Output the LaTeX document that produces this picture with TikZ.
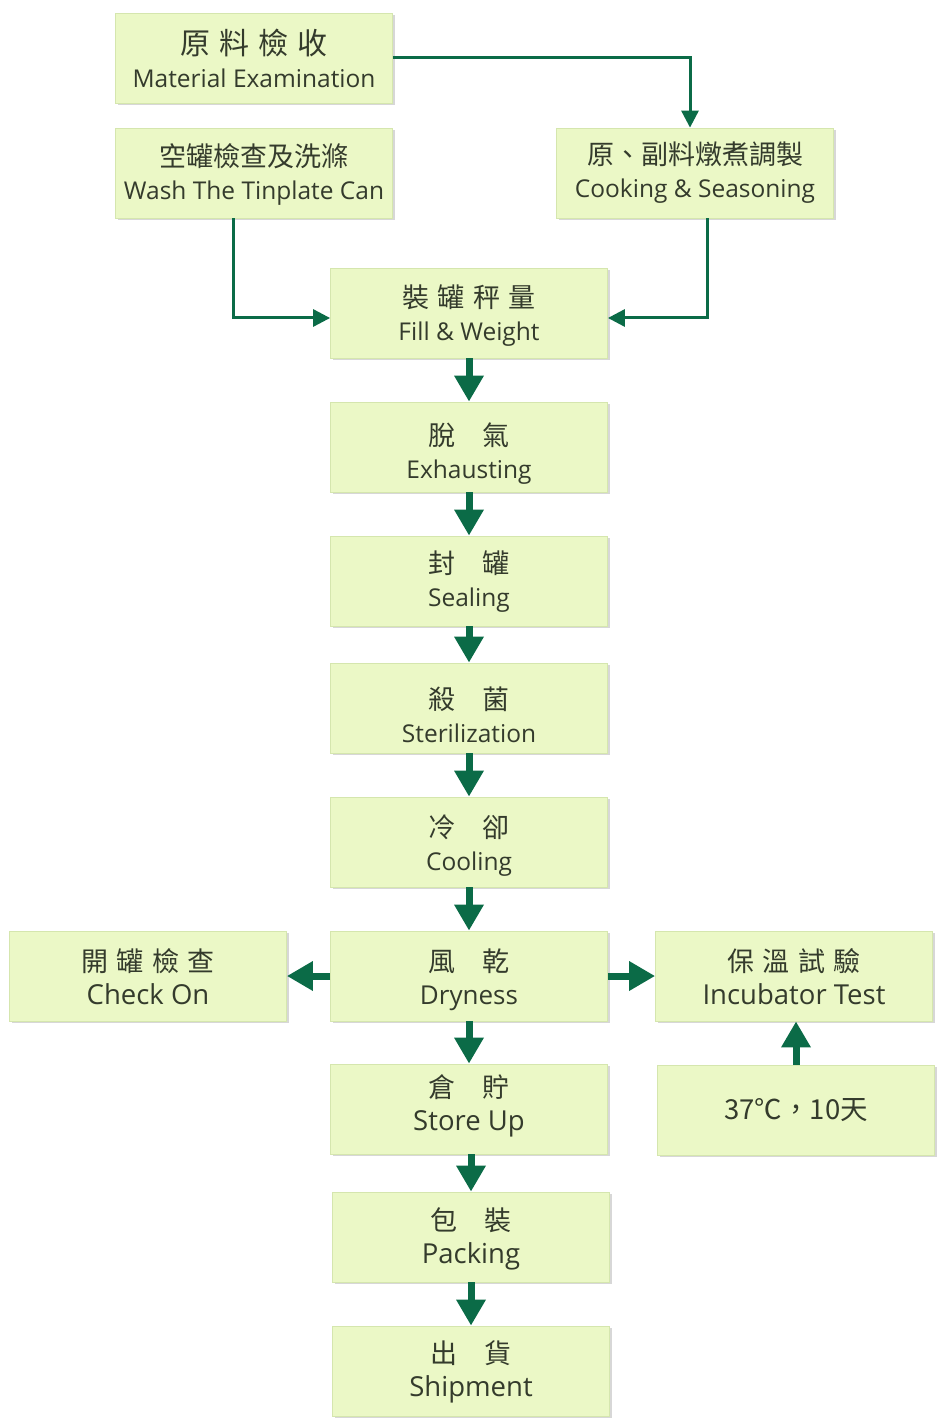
\documentclass[tikz,border=0pt]{standalone}
\usepackage{fontspec}
\setmainfont{Open Sans}
\newfontfamily\cjk{Noto Sans CJK TC}
\usetikzlibrary{arrows.meta,shadows}
\definecolor{boxfill}{HTML}{EBF8C6}
\definecolor{boxline}{HTML}{D5E6AE}
\definecolor{txt}{HTML}{343B2C}
\definecolor{arr}{HTML}{0B6B47}
\newcommand\zh[2][13.5]{{\cjk\fontsize{#1}{16.5}\selectfont #2}}
\newcommand\zs{\hspace{0.3em}}
\tikzset{
  proc/.style={draw=boxline, line width=0.4pt, fill=boxfill,
    minimum width=138.5pt, minimum height=45pt, inner sep=0pt,
    drop shadow={shadow xshift=1pt, shadow yshift=-1.2pt, opacity=0.35, fill=black!45}},
  lab/.style={inner sep=0pt, align=center, text=txt,
    font=\fontsize{12.25}{16.5}\selectfont},
  big/.style={font=\fontsize{13.75}{16.5}\selectfont},
  fat/.style={draw=arr, line width=3.5pt, -{Triangle[width=14pt,length=13pt]}},
  conn/.style={draw=arr, line width=1.5pt, -{Triangle[width=8.5pt,length=8.5pt]}}
}
\begin{document}
\begin{tikzpicture}[x=0.5pt,y=-0.5pt]
\useasboundingbox (0,0) rectangle (948,1427);
% boxes
\node[proc] (mat) at (254,58) {};
\node[proc] (wash) at (254,173) {};
\node[proc] (cook) at (695,173) {};
\node[proc] (fill) at (469,313) {};
\node[proc] (exh) at (469,447) {};
\node[proc] (seal) at (469,581) {};
\node[proc] (ster) at (469,708) {};
\node[proc] (cool) at (469,842) {};
\node[proc] (dry) at (469,976) {};
\node[proc] (check) at (148,976) {};
\node[proc] (incu) at (794,976) {};
\node[proc] (temp) at (796,1110) {};
\node[proc] (store) at (469,1109) {};
\node[proc] (pack) at (471,1237) {};
\node[proc] (ship) at (471,1371) {};
% texts
\node[lab] (matt) at ([yshift=0pt]mat.center) {\zh[15]{原\zs 料\zs 檢\zs 收}\\Material Examination};
\node[lab] (washt) at ([yshift=-0.5pt]wash.center) {\zh{空罐檢查及洗滌}\\Wash The Tinplate Can};
\node[lab] (cookt) at (cook.center) {\zh{原、副料燉煮調製}\\Cooking \& Seasoning};
\node[lab] (fillt) at ([yshift=-1.5pt]fill.center) {\zh{裝\zs 罐\zs 秤\zs 量}\\Fill \& Weight};
\node[lab] (exht) at ([yshift=-3.5pt]exh.center) {\zh{脫　氣}\\Exhausting};
\node[lab] (sealt) at ([yshift=-0.5pt]seal.center) {\zh{封　罐}\\Sealing};
\node[lab] (stert) at ([yshift=-3.5pt]ster.center) {\zh{殺　菌}\\Sterilization};
\node[lab] (coolt) at ([yshift=-2pt]cool.center) {\zh{冷　卻}\\Cooling};
\node[lab, font=\fontsize{13}{16.5}\selectfont] (dryt) at ([yshift=-2pt]dry.center) {\zh{風　乾}\\Dryness};
\node[lab, big] (checkt) at ([yshift=-0.5pt]check.center) {\zh{開\zs 罐\zs 檢\zs 查}\\Check On};
\node[lab, big] (incut) at ([yshift=-0.5pt]incu.center) {\zh{保\zs 溫\zs 試\zs 驗}\\Incubator Test};
\node[lab, big] (tempt) at ([yshift=0pt]temp.center) {\zh[13.75]{37℃，10天}};
\node[lab, big] (storet) at ([yshift=1.5pt]store.center) {\zh{倉　貯}\\Store Up};
\node[lab, big] (packt) at ([yshift=-1pt]pack.center) {\zh{包　裝}\\Packing};
\node[lab, big] (shipt) at ([yshift=-0.5pt]ship.center) {\zh{出　貨}\\Shipment};

\draw[conn] (mat.east) -| ([xshift=-2.5pt]cook.north);
\draw[conn] ([xshift=-10.5pt]wash.south) |- ([yshift=-2.5pt]fill.west);
\draw[conn] ([xshift=6pt]cook.south) |- ([yshift=-2.5pt]fill.east);

\draw[fat] (fill.south) -- (exh.north);
\draw[fat] (exh.south) -- (seal.north);
\draw[fat] (seal.south) -- (ster.north);
\draw[fat] (ster.south) -- (cool.north);
\draw[fat] (cool.south) -- (dry.north);
\draw[fat] (dry.south) -- (store.north);
\draw[fat] ([xshift=1pt]store.south) -- (pack.north);
\draw[fat] (pack.south) -- (ship.north);
\draw[fat] (dry.west) -- (check.east);
\draw[fat] (dry.east) -- (incu.west);
\draw[fat] (temp.north) -- ([xshift=1pt]incu.south);
\end{tikzpicture}
\end{document}
